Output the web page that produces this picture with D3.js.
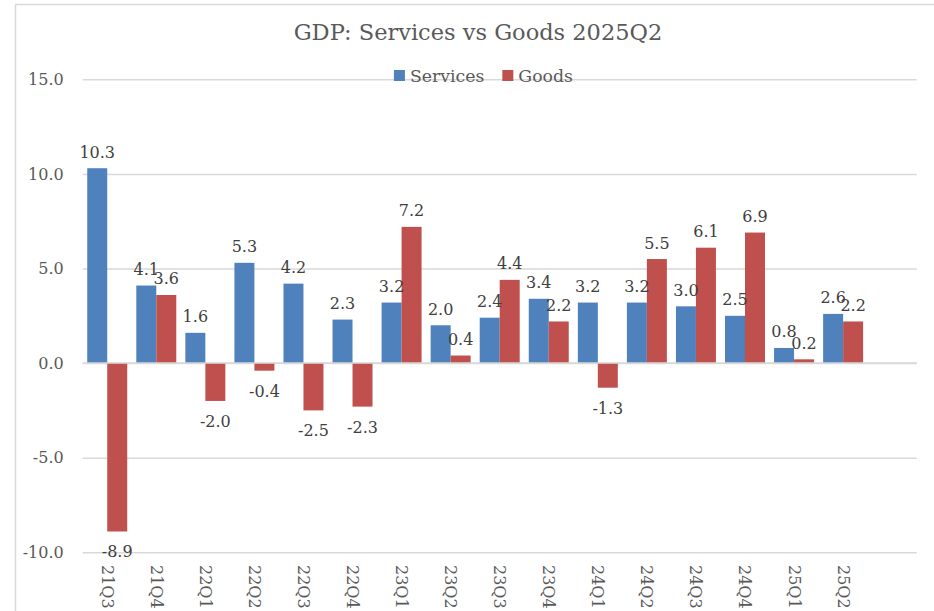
<!DOCTYPE html>
<html>
<head>
<meta charset="utf-8">
<script src="https://cdn.jsdelivr.net/npm/d3@7"></script>
<style>
  html, body { margin: 0; padding: 0; background: #ffffff; }
  svg { display: block; }
  text { font-family: "DejaVu Serif", "Liberation Serif", serif; }
</style>
</head>
<body>
<script>
// ---- data ----
const categories = ["21Q3","21Q4","22Q1","22Q2","22Q3","22Q4","23Q1","23Q2","23Q3","23Q4","24Q1","24Q2","24Q3","24Q4","25Q1","25Q2"];
const services = [10.3, 4.1, 1.6, 5.3, 4.2, 2.3, 3.2, 2.0, 2.4, 3.4, 3.2, 3.2, 3.0, 2.5, 0.8, 2.6];
const goods    = [-8.9, 3.6, -2.0, -0.4, -2.5, -2.3, 7.2, 0.4, 4.4, 2.2, -1.3, 5.5, 6.1, 6.9, 0.2, 2.2];
const seriesNames = ["Services", "Goods"];
const seriesColors = ["#4F81BD", "#C0504D"];
const yTicks = [-10, -5, 0, 5, 10, 15];
const title = "GDP: Services vs Goods 2025Q2";

// ---- layout ----
const W = 934, H = 611;
const plotLeft = 82.7, plotRight = 916.7;
const slotCount = 17;                       // 16 quarters plus an empty trailing slot
const step = (plotRight - plotLeft) / slotCount;
const yTop = 79.3, yBottom = 552.3;

const svg = d3.select("body").append("svg").attr("width", W).attr("height", H);

// chart frame (cropped at right/bottom)
svg.append("rect").attr("x", 15.5).attr("y", 4.5).attr("width", W + 20).attr("height", H + 20)
  .attr("fill", "#fff").attr("stroke", "#d9d9d9").attr("stroke-width", 1.5);

const y = d3.scaleLinear().domain([-10, 15]).range([yBottom, yTop]);
const x = d3.scaleBand().domain(categories)
  .range([plotLeft, plotLeft + step * categories.length])
  .paddingInner(0.185).paddingOuter(0.0925);
const xs = d3.scaleBand().domain(seriesNames).range([0, x.bandwidth()]);

// gridlines
const yAxis = d3.axisLeft(y).tickValues(yTicks).tickSize(-(plotRight - plotLeft)).tickPadding(19)
  .tickFormat(d3.format(".1f"));
const gy = svg.append("g").attr("transform", `translate(${plotLeft},0)`).call(yAxis);
gy.select(".domain").remove();
gy.selectAll(".tick line").attr("stroke", "#d9d9d9").attr("stroke-width", 1.5);
gy.selectAll(".tick text").attr("fill", "#595959").attr("font-size", 16)
  .text(d => d3.format(".1f")(d).replace("−", "-"));

// title
svg.append("text").attr("x", 478).attr("y", 40).attr("text-anchor", "middle")
  .attr("font-size", 22.5).attr("fill", "#595959").text(title);

// bars
const seriesData = [services, goods];
const groups = svg.append("g");
seriesNames.forEach((name, si) => {
  const vals = seriesData[si];
  groups.selectAll(`.bar-${si}`).data(vals).enter().append("rect")
    .attr("x", (d, i) => x(categories[i]) + xs(name))
    .attr("width", xs.bandwidth())
    .attr("y", d => y(Math.max(0, d)))
    .attr("height", d => Math.abs(y(d) - y(0)))
    .attr("fill", seriesColors[si]);
});

// zero axis line
svg.append("line").attr("x1", plotLeft).attr("x2", plotRight)
  .attr("y1", y(0)).attr("y2", y(0)).attr("stroke", "#d9d9d9").attr("stroke-width", 1.5);

// data labels
seriesNames.forEach((name, si) => {
  const vals = seriesData[si];
  svg.append("g").selectAll("text").data(vals).enter().append("text")
    .attr("x", (d, i) => x(categories[i]) + xs(name) + xs.bandwidth() / 2)
    .attr("y", d => d >= 0 ? y(d) - 10.5 : y(d) + 26)
    .attr("text-anchor", "middle").attr("font-size", 16).attr("fill", "#404040")
    .text(d => d3.format(".1f")(d).replace("−", "-"));
});

// x labels, rotated 90°
svg.append("g").selectAll("text").data(categories).enter().append("text")
  .attr("transform", d => `translate(${x(d) + x.bandwidth() / 2},565) rotate(90)`)
  .attr("text-anchor", "start").attr("dominant-baseline", "central")
  .attr("font-size", 16).attr("fill", "#595959").text(d => d);

// legend
const legend = svg.append("g");
let lx = 0;
const items = [];
seriesNames.forEach((name, si) => {
  const g = legend.append("g");
  g.append("rect").attr("x", lx).attr("y", 70).attr("width", 11).attr("height", 11).attr("fill", seriesColors[si]);
  const t = g.append("text").attr("x", lx + 16).attr("y", 82).attr("font-size", 17.3)
    .attr("fill", "#595959").text(name);
  lx += 16 + t.node().getComputedTextLength() + 18;
});
const legendW = lx - 18;
legend.attr("transform", `translate(${483.4 - legendW / 2},0)`);
</script>
</body>
</html>
